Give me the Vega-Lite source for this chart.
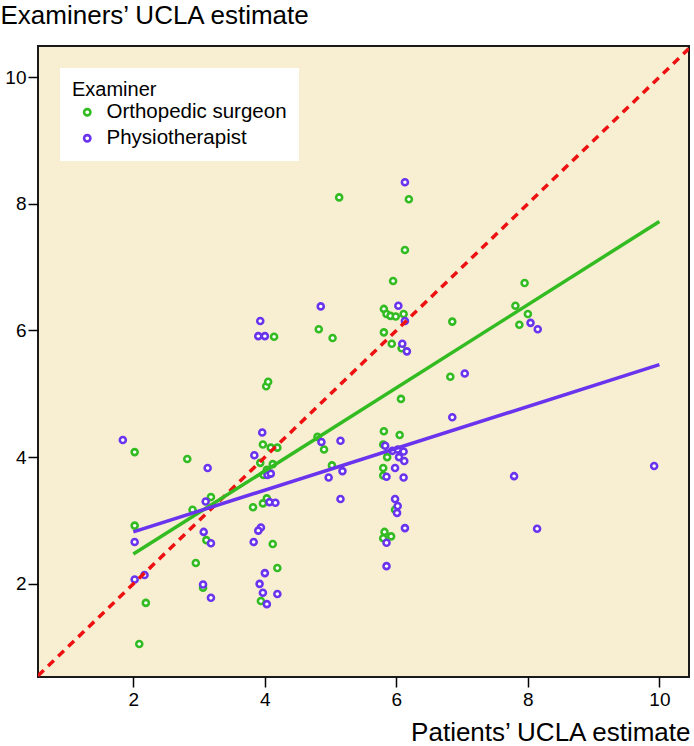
{
  "$schema": "https://vega.github.io/schema/vega-lite/v6.json",
  "autosize": "none",
  "width": 651,
  "height": 631,
  "padding": {"left": 38, "top": 46, "right": 5, "bottom": 69},
  "background": "white",
  "config": {
    "font": "Liberation Sans",
    "view": {"fill": "#f8efd2", "stroke": "#1a1a1a", "strokeWidth": 2},
    "axis": {
      "grid": false, "domain": false,
      "labelFont": "Liberation Sans", "labelFontSize": 19, "labelColor": "black",
      "tickColor": "black", "tickSize": 10, "tickWidth": 1.5, "labelPadding": 3,
      "titleFont": "Liberation Sans", "titleFontSize": 26, "titleFontWeight": "normal", "titleColor": "black"
    },
    "legend": {
      "titleFont": "Liberation Sans", "titleFontSize": 20, "titleFontWeight": "normal", "titleColor": "black",
      "labelFont": "Liberation Sans", "labelFontSize": 20.5, "labelColor": "black", "labelLimit": 0
    }
  },
  "datasets": {
    "pts": [
      {"Examiner": "Orthopedic surgeon", "patient": 2.02, "examiner": 4.08},
      {"Examiner": "Orthopedic surgeon", "patient": 2.82, "examiner": 3.97},
      {"Examiner": "Orthopedic surgeon", "patient": 4.02, "examiner": 5.12},
      {"Examiner": "Orthopedic surgeon", "patient": 4.05, "examiner": 5.19},
      {"Examiner": "Orthopedic surgeon", "patient": 3.97, "examiner": 4.20},
      {"Examiner": "Orthopedic surgeon", "patient": 4.09, "examiner": 4.15},
      {"Examiner": "Orthopedic surgeon", "patient": 4.19, "examiner": 4.15},
      {"Examiner": "Orthopedic surgeon", "patient": 3.93, "examiner": 3.91},
      {"Examiner": "Orthopedic surgeon", "patient": 4.12, "examiner": 3.89},
      {"Examiner": "Orthopedic surgeon", "patient": 4.03, "examiner": 3.80},
      {"Examiner": "Orthopedic surgeon", "patient": 3.98, "examiner": 3.72},
      {"Examiner": "Orthopedic surgeon", "patient": 4.80, "examiner": 4.32},
      {"Examiner": "Orthopedic surgeon", "patient": 4.90, "examiner": 4.12},
      {"Examiner": "Orthopedic surgeon", "patient": 5.02, "examiner": 3.87},
      {"Examiner": "Orthopedic surgeon", "patient": 3.18, "examiner": 3.37},
      {"Examiner": "Orthopedic surgeon", "patient": 2.90, "examiner": 3.17},
      {"Examiner": "Orthopedic surgeon", "patient": 3.82, "examiner": 3.21},
      {"Examiner": "Orthopedic surgeon", "patient": 3.97, "examiner": 3.27},
      {"Examiner": "Orthopedic surgeon", "patient": 4.03, "examiner": 3.35},
      {"Examiner": "Orthopedic surgeon", "patient": 2.02, "examiner": 2.92},
      {"Examiner": "Orthopedic surgeon", "patient": 3.11, "examiner": 2.69},
      {"Examiner": "Orthopedic surgeon", "patient": 4.12, "examiner": 2.63},
      {"Examiner": "Orthopedic surgeon", "patient": 2.95, "examiner": 2.33},
      {"Examiner": "Orthopedic surgeon", "patient": 4.19, "examiner": 2.25},
      {"Examiner": "Orthopedic surgeon", "patient": 3.94, "examiner": 1.73},
      {"Examiner": "Orthopedic surgeon", "patient": 3.06, "examiner": 1.94},
      {"Examiner": "Orthopedic surgeon", "patient": 2.19, "examiner": 1.70},
      {"Examiner": "Orthopedic surgeon", "patient": 2.09, "examiner": 1.05},
      {"Examiner": "Orthopedic surgeon", "patient": 5.13, "examiner": 8.10},
      {"Examiner": "Orthopedic surgeon", "patient": 6.19, "examiner": 8.07},
      {"Examiner": "Orthopedic surgeon", "patient": 6.13, "examiner": 7.27},
      {"Examiner": "Orthopedic surgeon", "patient": 5.95, "examiner": 6.78},
      {"Examiner": "Orthopedic surgeon", "patient": 7.95, "examiner": 6.75},
      {"Examiner": "Orthopedic surgeon", "patient": 5.81, "examiner": 6.34},
      {"Examiner": "Orthopedic surgeon", "patient": 5.85, "examiner": 6.26},
      {"Examiner": "Orthopedic surgeon", "patient": 5.91, "examiner": 6.23},
      {"Examiner": "Orthopedic surgeon", "patient": 5.99, "examiner": 6.22},
      {"Examiner": "Orthopedic surgeon", "patient": 6.11, "examiner": 6.26},
      {"Examiner": "Orthopedic surgeon", "patient": 7.81, "examiner": 6.39},
      {"Examiner": "Orthopedic surgeon", "patient": 8.00, "examiner": 6.26},
      {"Examiner": "Orthopedic surgeon", "patient": 7.87, "examiner": 6.09},
      {"Examiner": "Orthopedic surgeon", "patient": 6.85, "examiner": 6.14},
      {"Examiner": "Orthopedic surgeon", "patient": 5.03, "examiner": 5.88},
      {"Examiner": "Orthopedic surgeon", "patient": 4.82, "examiner": 6.02},
      {"Examiner": "Orthopedic surgeon", "patient": 4.14, "examiner": 5.90},
      {"Examiner": "Orthopedic surgeon", "patient": 5.81, "examiner": 5.97},
      {"Examiner": "Orthopedic surgeon", "patient": 5.93, "examiner": 5.79},
      {"Examiner": "Orthopedic surgeon", "patient": 6.08, "examiner": 5.72},
      {"Examiner": "Orthopedic surgeon", "patient": 6.82, "examiner": 5.27},
      {"Examiner": "Orthopedic surgeon", "patient": 6.07, "examiner": 4.92},
      {"Examiner": "Orthopedic surgeon", "patient": 5.81, "examiner": 4.41},
      {"Examiner": "Orthopedic surgeon", "patient": 6.05, "examiner": 4.35},
      {"Examiner": "Orthopedic surgeon", "patient": 5.80, "examiner": 4.20},
      {"Examiner": "Orthopedic surgeon", "patient": 5.86, "examiner": 4.00},
      {"Examiner": "Orthopedic surgeon", "patient": 5.80, "examiner": 3.83},
      {"Examiner": "Orthopedic surgeon", "patient": 5.80, "examiner": 3.71},
      {"Examiner": "Orthopedic surgeon", "patient": 5.98, "examiner": 3.17},
      {"Examiner": "Orthopedic surgeon", "patient": 5.82, "examiner": 2.82},
      {"Examiner": "Orthopedic surgeon", "patient": 5.80, "examiner": 2.72},
      {"Examiner": "Orthopedic surgeon", "patient": 5.92, "examiner": 2.75},
      {"Examiner": "Physiotherapist", "patient": 1.84, "examiner": 4.27},
      {"Examiner": "Physiotherapist", "patient": 3.13, "examiner": 3.83},
      {"Examiner": "Physiotherapist", "patient": 3.96, "examiner": 4.39},
      {"Examiner": "Physiotherapist", "patient": 3.84, "examiner": 4.03},
      {"Examiner": "Physiotherapist", "patient": 4.04, "examiner": 3.72},
      {"Examiner": "Physiotherapist", "patient": 4.09, "examiner": 3.74},
      {"Examiner": "Physiotherapist", "patient": 4.86, "examiner": 4.24},
      {"Examiner": "Physiotherapist", "patient": 5.15, "examiner": 4.26},
      {"Examiner": "Physiotherapist", "patient": 4.97, "examiner": 3.68},
      {"Examiner": "Physiotherapist", "patient": 5.15, "examiner": 3.34},
      {"Examiner": "Physiotherapist", "patient": 3.10, "examiner": 3.30},
      {"Examiner": "Physiotherapist", "patient": 4.07, "examiner": 3.29},
      {"Examiner": "Physiotherapist", "patient": 4.16, "examiner": 3.28},
      {"Examiner": "Physiotherapist", "patient": 2.02, "examiner": 2.66},
      {"Examiner": "Physiotherapist", "patient": 3.07, "examiner": 2.82},
      {"Examiner": "Physiotherapist", "patient": 3.18, "examiner": 2.64},
      {"Examiner": "Physiotherapist", "patient": 3.94, "examiner": 2.89},
      {"Examiner": "Physiotherapist", "patient": 3.90, "examiner": 2.84},
      {"Examiner": "Physiotherapist", "patient": 3.83, "examiner": 2.66},
      {"Examiner": "Physiotherapist", "patient": 4.00, "examiner": 2.17},
      {"Examiner": "Physiotherapist", "patient": 3.92, "examiner": 2.00},
      {"Examiner": "Physiotherapist", "patient": 3.97, "examiner": 1.86},
      {"Examiner": "Physiotherapist", "patient": 4.19, "examiner": 1.84},
      {"Examiner": "Physiotherapist", "patient": 4.03, "examiner": 1.68},
      {"Examiner": "Physiotherapist", "patient": 3.06, "examiner": 1.99},
      {"Examiner": "Physiotherapist", "patient": 3.18, "examiner": 1.78},
      {"Examiner": "Physiotherapist", "patient": 2.02, "examiner": 2.07},
      {"Examiner": "Physiotherapist", "patient": 2.17, "examiner": 2.14},
      {"Examiner": "Physiotherapist", "patient": 6.13, "examiner": 8.34},
      {"Examiner": "Physiotherapist", "patient": 6.03, "examiner": 6.39},
      {"Examiner": "Physiotherapist", "patient": 6.13, "examiner": 6.15},
      {"Examiner": "Physiotherapist", "patient": 8.04, "examiner": 6.12},
      {"Examiner": "Physiotherapist", "patient": 8.15, "examiner": 6.02},
      {"Examiner": "Physiotherapist", "patient": 6.09, "examiner": 5.79},
      {"Examiner": "Physiotherapist", "patient": 6.16, "examiner": 5.67},
      {"Examiner": "Physiotherapist", "patient": 7.04, "examiner": 5.32},
      {"Examiner": "Physiotherapist", "patient": 4.85, "examiner": 6.38},
      {"Examiner": "Physiotherapist", "patient": 3.93, "examiner": 6.15},
      {"Examiner": "Physiotherapist", "patient": 3.90, "examiner": 5.91},
      {"Examiner": "Physiotherapist", "patient": 4.00, "examiner": 5.91},
      {"Examiner": "Physiotherapist", "patient": 6.85, "examiner": 4.63},
      {"Examiner": "Physiotherapist", "patient": 5.83, "examiner": 4.18},
      {"Examiner": "Physiotherapist", "patient": 5.94, "examiner": 4.10},
      {"Examiner": "Physiotherapist", "patient": 6.02, "examiner": 4.12},
      {"Examiner": "Physiotherapist", "patient": 6.11, "examiner": 4.09},
      {"Examiner": "Physiotherapist", "patient": 6.04, "examiner": 4.00},
      {"Examiner": "Physiotherapist", "patient": 6.12, "examiner": 3.94},
      {"Examiner": "Physiotherapist", "patient": 5.98, "examiner": 3.83},
      {"Examiner": "Physiotherapist", "patient": 5.85, "examiner": 3.69},
      {"Examiner": "Physiotherapist", "patient": 6.11, "examiner": 3.68},
      {"Examiner": "Physiotherapist", "patient": 5.18, "examiner": 3.78},
      {"Examiner": "Physiotherapist", "patient": 7.79, "examiner": 3.70},
      {"Examiner": "Physiotherapist", "patient": 5.98, "examiner": 3.34},
      {"Examiner": "Physiotherapist", "patient": 6.02, "examiner": 3.23},
      {"Examiner": "Physiotherapist", "patient": 6.01, "examiner": 3.12},
      {"Examiner": "Physiotherapist", "patient": 6.13, "examiner": 2.88},
      {"Examiner": "Physiotherapist", "patient": 5.85, "examiner": 2.65},
      {"Examiner": "Physiotherapist", "patient": 5.85, "examiner": 2.28},
      {"Examiner": "Physiotherapist", "patient": 8.14, "examiner": 2.87},
      {"Examiner": "Physiotherapist", "patient": 9.92, "examiner": 3.86}
    ],
    "identity": [
      {"patient": 0.55, "examiner": 0.55},
      {"patient": 10.45, "examiner": 10.45}
    ],
    "fitOrtho": [
      {"patient": 2, "examiner": 2.47},
      {"patient": 10, "examiner": 7.72}
    ],
    "fitPhysio": [
      {"patient": 2, "examiner": 2.82},
      {"patient": 10, "examiner": 5.46}
    ]
  },
  "encoding": {
    "x": {
      "field": "patient", "type": "quantitative",
      "scale": {"domain": [0.55, 10.45], "nice": false, "zero": false},
      "axis": {
        "values": [2, 4, 6, 8, 10], "title": "Patients\u2019 UCLA estimate",
        "titleAnchor": "end", "titleAlign": "right", "titleX": 652, "titleY": 63, "titleBaseline": "alphabetic"
      }
    },
    "y": {
      "field": "examiner", "type": "quantitative",
      "scale": {"domain": [0.53, 10.49], "nice": false, "zero": false},
      "axis": {
        "values": [2, 4, 6, 8, 10], "title": "Examiners\u2019 UCLA estimate",
        "titleAngle": 0, "titleAlign": "left", "titleBaseline": "alphabetic", "titleX": -38, "titleY": -23, "labelPadding": 2
      }
    }
  },
  "layer": [
    {
      "data": {"name": "pts"},
      "mark": {"type": "point", "shape": "circle", "filled": false, "fill": "white", "fillOpacity": 1, "strokeWidth": 2.6, "size": 36, "opacity": 1},
      "encoding": {
        "stroke": {
          "field": "Examiner", "type": "nominal",
          "scale": {"domain": ["Orthopedic surgeon", "Physiotherapist"], "range": ["#33bb22", "#6a33ee"]},
          "legend": {
            "orient": "none", "legendX": 22, "legendY": 22, "fillColor": "white", "padding": 12,
            "titlePadding": 2, "rowPadding": 5, "symbolType": "circle", "symbolSize": 40,
            "symbolStrokeWidth": 2.6, "symbolFillColor": "white", "labelOffset": 9, "symbolOffset": 5
          }
        }
      }
    },
    {
      "data": {"name": "identity"},
      "mark": {"type": "line", "stroke": "#ee1111", "strokeWidth": 3.5, "strokeDash": [8, 6], "clip": true},
      "encoding": {}
    },
    {
      "data": {"name": "fitOrtho"},
      "mark": {"type": "line", "stroke": "#33bb22", "strokeWidth": 3.5},
      "encoding": {}
    },
    {
      "data": {"name": "fitPhysio"},
      "mark": {"type": "line", "stroke": "#6a33ee", "strokeWidth": 3.5},
      "encoding": {}
    }
  ]
}
